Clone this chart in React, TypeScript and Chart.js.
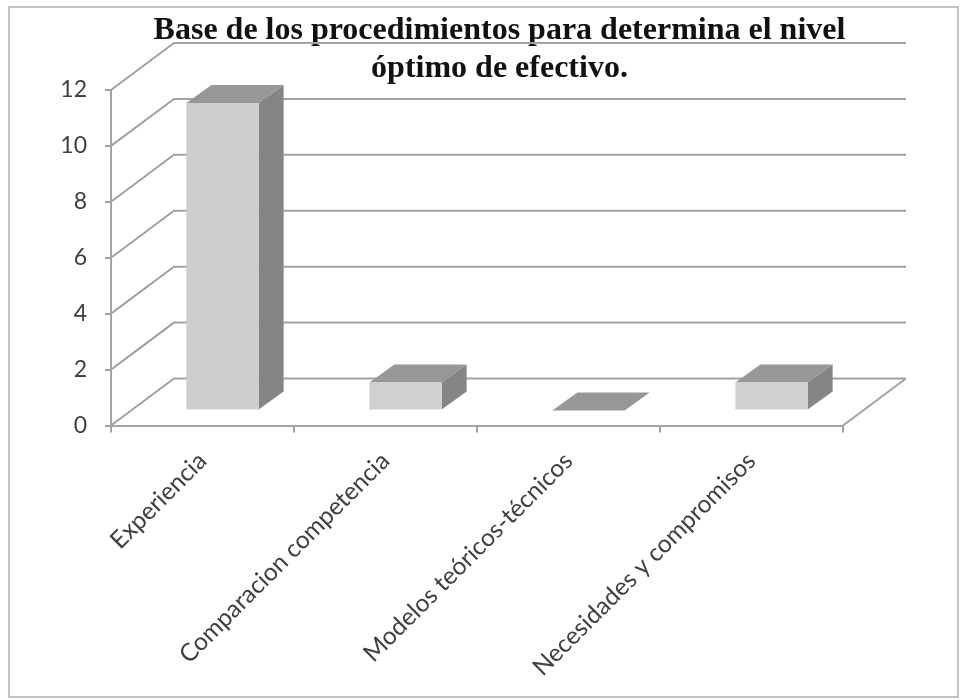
import React, { useEffect, useRef } from "react";
import { Chart, registerables } from "chart.js";

Chart.register(...registerables);

const titleLines = ["Base de los procedimientos para determina el nivel", "óptimo de efectivo."];
const categories = ["Experiencia", "Comparacion competencia", "Modelos teóricos-técnicos", "Necesidades y compromisos"];
const seriesValues = [11, 1, 0, 1];
const frontColors = ["#d0cdce", "#d0d0d0", "#d0d0d0", "#d0d0d0"];
const TOP_COLOR = "#979797";
const SIDE_COLOR = "#858585";
const GRID_COLOR = "#a2a2a2";
const TEXT_COLOR = "#404040";

// Perspective offsets of the 3D look
const WALL_DX = 63, WALL_DY = -47;
const BAR_DX = 20, BAR_DY = -15;
const DEPTH_DX = 25, DEPTH_DY = -18;

const frame3d = {
  id: "frame3d",
  afterLayout(chart: any) {
    if (chart.titleBlock) {
      chart.titleBlock.left += 78;
      chart.titleBlock.right += 78;
    }
  },
  beforeDraw(chart: any) {
    const { ctx, width, height } = chart;
    ctx.save();
    ctx.fillStyle = "#ffffff";
    ctx.fillRect(0, 0, width, height);
    ctx.strokeStyle = "#c2c2c2";
    ctx.lineWidth = 2;
    ctx.strokeRect(9, 7, 949, 690);
    ctx.restore();
  },
  beforeDatasetsDraw(chart: any) {
    const { ctx, chartArea, scales } = chart;
    ctx.save();
    ctx.strokeStyle = GRID_COLOR;
    ctx.lineWidth = 2;
    scales.y.ticks.forEach((t: any) => {
      const y = scales.y.getPixelForValue(t.value);
      ctx.beginPath();
      ctx.moveTo(chartArea.left, y);
      ctx.lineTo(chartArea.left + WALL_DX, y + WALL_DY);
      ctx.lineTo(chartArea.right + WALL_DX, y + WALL_DY);
      ctx.stroke();
    });
    const y0 = scales.y.getPixelForValue(0);
    ctx.beginPath();
    ctx.moveTo(chartArea.right + WALL_DX, y0 + WALL_DY);
    ctx.lineTo(chartArea.right, y0);
    ctx.stroke();
    ctx.restore();
  },
  beforeDatasetDraw(chart: any, args: any) {
    const { ctx } = chart;
    ctx.save();
    ctx.translate(BAR_DX, BAR_DY);
    args.meta.data.forEach((bar: any) => {
      const l = bar.x - bar.width / 2, r = bar.x + bar.width / 2;
      ctx.fillStyle = SIDE_COLOR;
      ctx.beginPath();
      ctx.moveTo(r, bar.base);
      ctx.lineTo(r + DEPTH_DX, bar.base + DEPTH_DY);
      ctx.lineTo(r + DEPTH_DX, bar.y + DEPTH_DY);
      ctx.lineTo(r, bar.y);
      ctx.closePath();
      ctx.fill();
      ctx.fillStyle = TOP_COLOR;
      ctx.beginPath();
      ctx.moveTo(l, bar.y);
      ctx.lineTo(l + DEPTH_DX, bar.y + DEPTH_DY);
      ctx.lineTo(r + DEPTH_DX, bar.y + DEPTH_DY);
      ctx.lineTo(r, bar.y);
      ctx.closePath();
      ctx.fill();
    });
  },
  afterDatasetDraw(chart: any) {
    chart.ctx.restore();
  },
};

export default function App() {
  const ref = useRef<HTMLCanvasElement | null>(null);
  useEffect(() => {
    const chart = new Chart(ref.current as HTMLCanvasElement, {
      type: "bar",
      data: {
        labels: categories,
        datasets: [
          {
            label: "Serie 1",
            data: seriesValues,
            backgroundColor: frontColors,
            borderWidth: 0,
            barPercentage: 0.395,
            categoryPercentage: 1,
            clip: false as any,
          },
        ],
      },
      options: {
        animation: false,
        responsive: false,
        layout: { padding: { left: 0, right: 118, top: 0, bottom: 0 } },
        plugins: {
          legend: { display: false },
          tooltip: { enabled: false },
          title: {
            display: true,
            text: titleLines,
            color: "#111111",
            font: { family: "'Liberation Serif'", size: 32, weight: "bold", lineHeight: 1.19 },
            padding: { top: 11.5, bottom: 2.3 },
          },
        },
        scales: {
          x: {
            grid: { drawOnChartArea: false, color: GRID_COLOR, tickLength: 7, lineWidth: 2, offset: true },
            border: { color: GRID_COLOR, width: 2 },
            ticks: {
              color: TEXT_COLOR,
              font: { family: "Lato", size: 24.5 },
              minRotation: 45,
              maxRotation: 45,
              autoSkip: false,
              padding: 14,
            },
            afterFit(s: any) {
              s.height = 274.5;
            },
          },
          y: {
            min: 0,
            max: 12,
            grid: { drawOnChartArea: false, color: GRID_COLOR, tickLength: 6, lineWidth: 2 },
            border: { color: GRID_COLOR, width: 2 },
            ticks: {
              stepSize: 2,
              color: TEXT_COLOR,
              font: { family: "Lato", size: 23 },
              padding: 18,
            },
            afterFit(s: any) {
              s.width = 111;
            },
          },
        },
      },
      plugins: [frame3d],
    });
    return () => chart.destroy();
  }, []);
  return (
    <div style={{ position: "absolute", left: 0, top: 0, width: 961, height: 700 }}>
      <canvas ref={ref} width={961} height={700} style={{ display: "block" }} />
    </div>
  );
}
